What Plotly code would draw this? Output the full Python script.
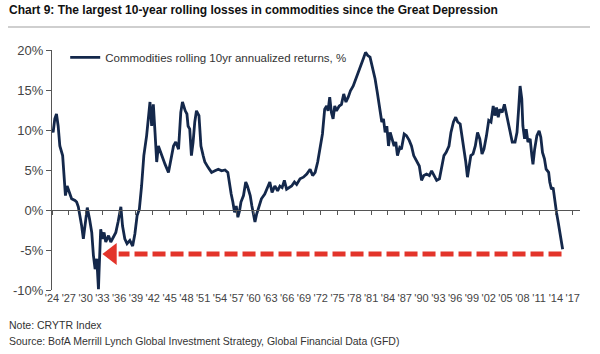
import plotly.graph_objects as go

title_text = "Chart 9: The largest 10-year rolling losses in commodities since the Great Depression"
series_name = "Commodities rolling 10yr annualized returns, %"
note_text = "Note: CRYTR Index"
source_text = "Source: BofA Merrill Lynch Global Investment Strategy, Global Financial Data (GFD)"

years = [
    1924.0, 1924.2, 1924.5, 1924.8, 1925.1, 1925.4, 1925.9, 1926.1, 1926.4, 1926.7,
    1927.1, 1927.5, 1928.1, 1928.4, 1928.7, 1929.0, 1929.3, 1929.6, 1929.9, 1930.3,
    1930.7, 1931.1, 1931.4, 1931.7, 1932.0, 1932.3, 1932.4, 1932.7, 1933.0, 1933.3,
    1933.6, 1934.1, 1934.5, 1934.9, 1935.4, 1935.8, 1936.3, 1936.6, 1937.0, 1937.4,
    1937.9, 1938.4, 1938.8, 1939.2, 1939.6, 1940.0, 1940.4, 1940.9, 1941.3, 1941.5,
    1941.8, 1942.1, 1942.4, 1942.7, 1943.0, 1943.6, 1944.2, 1944.8, 1945.2, 1945.7,
    1946.1, 1946.6, 1947.0, 1947.3, 1947.8, 1948.1, 1948.3, 1948.6, 1948.9, 1949.2,
    1949.5, 1949.8, 1950.25, 1950.6, 1951.0, 1951.3, 1951.9, 1952.5, 1953.1, 1953.7,
    1954.3, 1954.9, 1955.4, 1955.7, 1956.0, 1956.3, 1956.6, 1956.9, 1957.2, 1957.5,
    1957.75, 1958.2, 1958.6, 1958.9, 1959.4, 1959.7, 1960.0, 1960.25, 1960.55, 1961.0,
    1961.4, 1962.0, 1962.5, 1962.9, 1963.3, 1963.8, 1964.3, 1964.7, 1965.1, 1965.5,
    1965.9, 1966.3, 1966.8, 1967.3, 1967.7, 1968.3, 1968.9, 1969.5, 1970.1, 1970.55,
    1971.0, 1971.45, 1971.9, 1972.3, 1972.7, 1973.05, 1973.3, 1973.6, 1973.9, 1974.2,
    1974.5, 1974.8, 1975.3, 1975.7, 1976.1, 1976.5, 1976.9, 1977.3, 1977.8, 1978.3,
    1978.7, 1979.1, 1979.6, 1980.0, 1980.4, 1980.8, 1981.2, 1981.7, 1982.1, 1982.45,
    1982.9, 1983.2, 1983.5, 1983.8, 1984.1, 1984.4, 1984.7, 1985.1, 1985.4, 1985.7,
    1986.1, 1986.4, 1986.9, 1987.3, 1987.8, 1988.2, 1988.6, 1989.1, 1989.6, 1990.0,
    1990.4, 1990.9, 1991.4, 1991.8, 1992.2, 1992.7, 1993.2, 1993.6, 1994.0, 1994.4,
    1994.9, 1995.25, 1995.7, 1996.1, 1996.45, 1996.9, 1997.3, 1997.65, 1997.9, 1998.2,
    1998.5, 1998.8, 1999.2, 1999.6, 2000.0, 2000.4, 2000.8, 2001.15, 2001.6, 2002.0,
    2002.4, 2002.8, 2003.1, 2003.4, 2003.7, 2004.0, 2004.4, 2004.8, 2005.1, 2005.4,
    2005.8, 2006.2, 2006.7, 2007.05, 2007.3, 2007.6, 2007.9, 2008.1, 2008.4, 2008.7,
    2009.0, 2009.4, 2009.7, 2009.9, 2010.2, 2010.6, 2011.0, 2011.3, 2011.6, 2011.95,
    2012.25, 2012.7, 2012.9, 2013.2, 2013.5, 2013.8, 2014.1, 2014.4, 2014.7, 2015.0,
    2015.2,
]
returns = [
    10.1, 9.7, 11.4, 12.0, 10.5, 8.0, 6.8, 4.7, 1.8, 3.0,
    2.2, 1.4, 1.2, 1.0, 0.4, -0.7, -2.0, -3.6, -2.0, 0.3,
    -1.1, -2.8, -5.7, -7.4, -6.1, -9.9, -7.8, -2.4, -3.6, -2.8,
    -4.0, -3.2, -4.0, -3.4, -2.8, -1.5, 0.4, -2.0, -3.6, -4.2,
    -3.8, -4.5, -3.0, -0.7, 0.1, 3.0, 6.8, 9.3, 11.8, 13.5,
    10.5, 13.2, 9.7, 6.0, 8.0, 6.8, 5.7, 4.7, 6.0, 8.0,
    8.5, 7.6, 12.2, 13.5, 12.4, 12.0, 10.5, 10.1, 6.8, 8.5,
    11.0, 12.4, 11.8, 8.0, 6.8, 6.0, 5.3, 4.7, 4.9, 5.1,
    4.9, 5.0, 4.7, 3.0, 2.0, 1.0, -0.3, 0.5, -0.9, -0.1,
    1.0, 1.8, 3.5, 3.0, 1.8, 0.5, -0.9, -1.5, -0.5, 0.5,
    1.4, 2.0, 2.8, 3.5, 2.2, 3.0, 2.4, 3.0, 2.8, 3.7,
    2.6, 2.8, 3.0, 3.5, 3.2, 3.9, 4.1, 4.5, 5.1, 4.3,
    4.7, 6.0, 7.6, 9.5, 12.6, 13.0, 12.4, 14.1, 12.2, 11.4,
    13.0, 12.4, 13.0, 13.2, 14.5, 13.5, 14.1, 14.9, 15.5, 16.4,
    17.2, 17.8, 18.9, 19.7, 19.3, 19.1, 18.0, 16.4, 14.7, 13.0,
    11.0, 11.4, 9.7, 10.5, 8.0, 9.7, 8.9, 8.0, 8.5, 6.8,
    7.8, 7.6, 9.5, 9.3, 8.7, 8.0, 6.8, 6.2, 5.5, 3.7,
    4.3, 4.5, 4.3, 4.9, 4.3, 3.7, 3.9, 5.5, 6.8, 7.2,
    8.0, 9.7, 11.0, 11.6, 11.0, 10.75, 8.9, 7.2, 6.0, 4.1,
    5.5, 6.8, 7.0, 8.0, 9.7, 8.9, 7.0, 7.6, 9.3, 11.2,
    11.0, 13.0, 11.8, 12.8, 11.6, 12.6, 12.2, 13.2, 12.2, 11.2,
    9.7, 8.5, 8.5, 9.7, 12.2, 15.5, 13.9, 10.5, 8.9, 10.1,
    8.5, 8.9, 6.8, 5.7, 7.6, 9.3, 9.9, 9.1, 7.2, 6.4,
    5.1, 4.7, 3.5, 2.6, 2.8, 1.0, -0.3, -1.5, -2.8, -3.6,
    -4.9,
]

# red dashed arrow (from 2015 back to the 1930s level)
arrow_x = [2015.0, 1935.9]
arrow_y = [-5.5, -5.5]
arrow_tip_x = [1934.7]
arrow_tip_y = [-5.5]

tick_years = list(range(1924, 2018, 3))
tick_labels = ["'" + str(y)[2:] for y in tick_years]
y_ticks = [-10, -5, 0, 5, 10, 15, 20]
y_labels = [f"{v}%" for v in y_ticks]

NAVY = "#14284B"
RED = "#E3342A"
GREY = "#444444"
FONT = "Liberation Sans, Arial, sans-serif"
x_range = [1924, 2018.3]

fig = go.Figure()
fig.add_trace(go.Scatter(
    x=arrow_x, y=arrow_y, mode="lines",
    line=dict(color=RED, width=5, dash="13px,5px"),
    showlegend=False, hoverinfo="skip"))
fig.add_trace(go.Scatter(
    x=arrow_tip_x, y=arrow_tip_y, mode="markers",
    marker=dict(symbol="triangle-left", size=19, color=RED, line=dict(width=0)),
    showlegend=False, hoverinfo="skip"))
fig.add_trace(go.Scatter(
    x=years, y=returns, mode="lines", name=series_name,
    line=dict(color=NAVY, width=2.8), showlegend=True))
# invisible copy on the zero-line axis so it is drawn
fig.add_trace(go.Scatter(
    x=years, y=returns, xaxis="x2", mode="lines", opacity=0,
    showlegend=False, hoverinfo="skip"))

fig.update_layout(
    width=600, height=354,
    margin=dict(l=52, r=20, t=50, b=64),
    paper_bgcolor="white", plot_bgcolor="white",
    font=dict(family=FONT, color=GREY, size=12),
    xaxis=dict(range=x_range, tickvals=tick_years, ticktext=tick_labels,
               tickangle=0, showline=False, showgrid=False, zeroline=False,
               ticks="", tickfont=dict(size=11, color=GREY)),
    xaxis2=dict(range=x_range, overlaying="x", anchor="free", position=1/3,
                side="bottom", tickvals=tick_years, showticklabels=False,
                showline=True, linecolor="#555555", linewidth=1.3,
                ticks="outside", ticklen=4, tickcolor="#555555", tickwidth=1,
                showgrid=False, zeroline=False),
    yaxis=dict(range=[-10, 20], tickvals=y_ticks, ticktext=y_labels,
               showline=True, linecolor="#555555", linewidth=1.3,
               ticks="outside", ticklen=5, tickcolor="#555555",
               showgrid=False, zeroline=False,
               tickfont=dict(size=13, color=GREY)),
    legend=dict(x=0.025, y=1.03, xanchor="left", yanchor="top",
                bgcolor="rgba(0,0,0,0)", font=dict(size=11.5, color="#333333"),
                itemwidth=30),
    showlegend=True,
)

fig.add_annotation(text="<b>" + title_text + "</b>", xref="paper", yref="paper",
                   x=-45/528, y=1 + 31/240, xanchor="left", yanchor="bottom",
                   showarrow=False, font=dict(size=12, color="#111111", family=FONT))
fig.add_shape(type="line", xref="paper", yref="paper",
              x0=-44/528, x1=538/528, y0=1 + 23/240, y1=1 + 23/240,
              line=dict(color="#A0A0A0", width=1.2))
fig.add_annotation(text=note_text, xref="paper", yref="paper",
                   x=-45/528, y=-(325 - 290)/240, xanchor="left", yanchor="middle",
                   showarrow=False, font=dict(size=10.5, color="#333333", family=FONT))
fig.add_annotation(text=source_text, xref="paper", yref="paper",
                   x=-45/528, y=-(341 - 290)/240, xanchor="left", yanchor="middle",
                   showarrow=False, font=dict(size=10.5, color="#333333", family=FONT))

fig.write_html("out.html")
